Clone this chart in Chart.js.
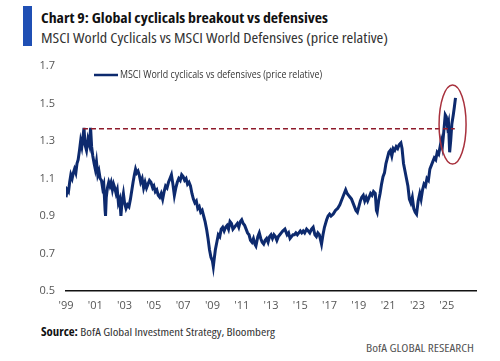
<!DOCTYPE html>
<html>
<head>
<meta charset="utf-8">
<script src="https://cdn.jsdelivr.net/npm/chart.js@4/dist/chart.umd.min.js"></script>
<style>
  html, body { margin: 0; padding: 0; background: #fff; }
  #wrap { position: relative; width: 500px; height: 361px; overflow: hidden; font-family: "Open Sans", sans-serif; }
  #bar { position: absolute; left: 23px; top: 6px; width: 9px; height: 40px; background: #1f4fb4; }
  .txt { position: absolute; white-space: nowrap; font-stretch: condensed; transform-origin: 0 0; }
  #title { left: 41px; top: 8px; font-size: 14.5px; font-weight: 700; color: #111; }
  #subtitle { left: 41px; top: 28px; font-size: 14px; color: #333; }
  #source { left: 41px; top: 324px; font-size: 11.5px; color: #333; }
  #source b { color: #111; }
  #footer { left: 366px; top: 340px; font-size: 11.5px; color: #555; }
  canvas { position: absolute; left: 0; top: 0; }
</style>
</head>
<body>
<div id="wrap">
  <div id="bar"></div>
  <div class="txt" id="title" data-w="287">Chart 9: Global cyclicals breakout vs defensives</div>
  <div class="txt" id="subtitle" data-w="347">MSCI World Cyclicals vs MSCI World Defensives (price relative)</div>
  <div class="txt" id="source" data-w="234"><b>Source:</b> BofA Global Investment Strategy, Bloomberg</div>
  <div class="txt" id="footer" data-w="108">BofA GLOBAL RESEARCH</div>
  <canvas id="c" width="500" height="361"></canvas>
</div>
<script>
// fit header/footer texts to the reference widths
document.querySelectorAll(".txt").forEach(el => {
  const w = el.getBoundingClientRect().width;
  const target = parseFloat(el.dataset.w);
  if (w > 0) el.style.transform = "scaleX(" + (target / w) + ")";
});

// ---- data ----
const seriesName = "MSCI World cyclicals vs defensives (price relative)";
const dates = [
1999.00,1999.08,1999.17,1999.25,1999.33,1999.42,1999.50,1999.58,1999.67,1999.75,1999.83,1999.92,
2000.00,2000.08,2000.17,2000.23,2000.30,2000.40,2000.50,2000.60,2000.68,2000.75,2000.83,2000.92,
2001.00,2001.08,2001.17,2001.25,2001.33,2001.42,2001.50,2001.58,2001.67,2001.70,2001.75,2001.83,2001.92,
2002.00,2002.08,2002.17,2002.25,2002.33,2002.42,2002.50,2002.58,2002.67,2002.75,2002.83,2002.92,
2003.00,2003.10,2003.20,2003.30,2003.40,2003.50,2003.58,2003.67,2003.75,2003.83,2003.92,
2004.00,2004.10,2004.20,2004.30,2004.40,2004.50,2004.60,2004.70,2004.80,2004.92,
2005.00,2005.10,2005.20,2005.30,2005.40,2005.50,2005.60,2005.70,2005.80,2005.90,
2006.00,2006.10,2006.20,2006.30,2006.40,2006.50,2006.60,2006.70,2006.80,2006.90,
2007.00,2007.10,2007.20,2007.30,2007.40,2007.50,2007.60,2007.70,2007.80,2007.90,
2008.00,2008.10,2008.20,2008.30,2008.40,2008.50,2008.60,2008.70,2008.80,2008.90,
2009.00,2009.06,2009.12,2009.20,2009.30,2009.40,2009.50,2009.60,2009.70,2009.80,2009.90,
2010.00,2010.10,2010.20,2010.30,2010.40,2010.50,2010.60,2010.70,2010.80,2010.90,
2011.00,2011.10,2011.20,2011.30,2011.40,2011.50,2011.60,2011.70,2011.80,2011.90,2011.97,
2012.10,2012.20,2012.30,2012.40,2012.50,2012.60,2012.70,2012.80,2012.90,
2013.00,2013.10,2013.20,2013.30,2013.40,2013.50,2013.60,2013.70,2013.80,2013.95,
2014.10,2014.20,2014.30,2014.40,2014.50,2014.60,2014.70,2014.80,2014.90,
2015.00,2015.10,2015.20,2015.30,2015.43,2015.55,2015.65,2015.77,2015.88,
2016.00,2016.10,2016.20,2016.30,2016.45,2016.55,2016.65,2016.80,2016.90,
2017.00,2017.10,2017.25,2017.40,2017.55,2017.70,2017.80,2017.90,
2018.00,2018.10,2018.20,2018.30,2018.40,2018.50,2018.60,2018.70,2018.80,2018.90,
2019.00,2019.10,2019.20,2019.30,2019.40,2019.50,2019.60,2019.70,2019.80,2019.90,
2020.00,2020.12,2020.20,2020.25,2020.35,2020.45,2020.55,2020.65,2020.75,2020.85,2020.95,
2021.05,2021.15,2021.25,2021.35,2021.45,2021.55,2021.65,2021.75,2021.87,2021.95,
2022.05,2022.15,2022.25,2022.35,2022.45,2022.55,2022.65,2022.75,2022.85,2022.94,
2023.05,2023.16,2023.25,2023.35,2023.45,2023.55,2023.65,2023.75,2023.85,2023.95,
2024.05,2024.15,2024.25,2024.35,2024.45,2024.55,2024.62,2024.70,2024.80,2024.90,2024.97,
2025.05,2025.12,2025.20,2025.27,2025.35,2025.45,2025.52,2025.60
];
const values = [
1.00,1.04,1.03,1.08,1.12,1.10,1.13,1.15,1.13,1.18,1.20,1.25,
1.30,1.27,1.33,1.37,1.28,1.25,1.31,1.28,1.37,1.27,1.22,1.18,
1.15,1.19,1.12,1.14,1.10,1.09,1.05,1.07,0.93,0.90,1.00,1.05,1.08,
1.06,1.08,1.04,1.07,1.05,1.02,1.04,0.97,0.99,0.90,0.98,1.02,
0.97,0.94,0.96,0.95,0.99,1.04,1.08,1.12,1.15,1.13,1.14,
1.12,1.08,1.10,1.05,1.08,1.05,1.07,1.09,1.08,1.05,
1.06,1.03,1.04,1.01,1.00,1.02,0.99,1.03,1.06,1.05,
1.08,1.10,1.12,1.07,1.01,1.05,1.08,1.10,1.09,1.12,
1.11,1.09,1.10,1.07,1.08,1.06,1.02,0.99,0.97,0.98,
0.94,0.95,0.92,0.93,0.90,0.87,0.83,0.78,0.72,0.68,
0.66,0.63,0.67,0.72,0.76,0.80,0.79,0.83,0.84,0.82,0.84,
0.85,0.83,0.87,0.86,0.83,0.84,0.85,0.86,0.84,0.87,
0.88,0.86,0.85,0.83,0.81,0.80,0.77,0.76,0.78,0.75,0.74,
0.79,0.81,0.78,0.76,0.75,0.77,0.78,0.76,0.79,
0.80,0.78,0.80,0.79,0.77,0.79,0.80,0.81,0.82,0.83,
0.80,0.81,0.78,0.79,0.80,0.80,0.81,0.80,0.81,
0.82,0.81,0.82,0.81,0.83,0.82,0.81,0.83,0.84,
0.80,0.79,0.81,0.80,0.75,0.80,0.84,0.88,0.90,
0.91,0.90,0.91,0.93,0.94,0.96,0.98,1.00,
1.02,1.04,1.02,1.01,1.00,0.99,0.97,0.95,0.93,0.92,
0.95,0.98,1.00,1.01,0.98,1.00,0.98,1.00,1.02,1.01,
1.03,1.02,0.93,0.92,0.98,1.02,1.07,1.11,1.13,1.18,1.21,
1.24,1.25,1.22,1.26,1.25,1.27,1.26,1.28,1.29,1.26,
1.18,1.14,1.10,1.06,0.99,0.97,1.00,0.94,0.92,0.91,
0.98,1.02,0.99,1.04,1.07,1.06,1.10,1.09,1.15,1.17,
1.19,1.21,1.20,1.24,1.23,1.27,1.30,1.27,1.35,1.44,1.43,
1.38,1.40,1.24,1.30,1.39,1.44,1.48,1.53
];
const prevPeakLevel = 1.365;
const prevPeakRange = [2000.16, 2025.55];
const tickYears = [1999,2001,2003,2005,2007,2009,2011,2013,2015,2017,2019,2021,2023,2025];
const yTicks = [0.5,0.7,0.9,1.1,1.3,1.5,1.7];
const xRange = [1999, 2027];
const yRange = [0.5, 1.7];
const highlight = { year: 2025.4, value: 1.388 };

const lineColor = "#0d2a6e";
const dashColor = "#8e1b2b";

const points = dates.map((d, i) => ({ x: d, y: values[i] }));
const peakLine = prevPeakRange.map(d => ({ x: d, y: prevPeakLevel }));

const overlay = {
  id: "overlay",
  afterDraw(chart) {
    const ctx = chart.ctx;
    const xs = chart.scales.x, ys = chart.scales.y;
    ctx.save();
    ctx.strokeStyle = "#a8313d";
    ctx.lineWidth = 1.5;
    ctx.beginPath();
    ctx.ellipse(xs.getPixelForValue(highlight.year), ys.getPixelForValue(highlight.value), 13.5, 39.5, 0, 0, Math.PI * 2);
    ctx.stroke();
    const lx = chart.chartArea.left + 28, ly = chart.chartArea.top + 9;
    ctx.strokeStyle = lineColor;
    ctx.lineWidth = 2.5;
    ctx.beginPath();
    ctx.moveTo(lx, ly); ctx.lineTo(lx + 24, ly);
    ctx.stroke();
    ctx.fillStyle = "#333";
    ctx.font = "10.5px 'Open Sans', sans-serif";
    ctx.textBaseline = "middle";
    ctx.fillText(seriesName, lx + 26, ly, 202);
    ctx.restore();
  }
};

new Chart(document.getElementById("c"), {
  type: "line",
  data: {
    datasets: [
      { label: seriesName, data: points, borderColor: lineColor, borderWidth: 3, pointRadius: 0, tension: 0, order: 2 },
      { label: "prev peak", data: peakLine, borderColor: dashColor, borderWidth: 1.5, borderDash: [5, 3], pointRadius: 0, order: 1 }
    ]
  },
  options: {
    responsive: false,
    animation: false,
    events: [],
    layout: { padding: { left: 0, right: 24, top: 66, bottom: 0 } },
    plugins: { legend: { display: false }, tooltip: { enabled: false } },
    scales: {
      x: {
        type: "linear",
        min: xRange[0], max: xRange[1],
        afterBuildTicks(s) { s.ticks = tickYears.map(v => ({ value: v })); },
        afterFit(s) { s.height = 70; },
        grid: { display: false, drawTicks: false },
        border: { display: true, color: "#111", width: 1.5 },
        ticks: {
          autoSkip: false, maxRotation: 0, padding: 8,
          color: "#555", font: { family: "Open Sans", size: 11 },
          callback: v => "'" + String(v % 100).padStart(2, "0")
        }
      },
      y: {
        min: yRange[0], max: yRange[1],
        afterBuildTicks(s) { s.ticks = yTicks.map(v => ({ value: v })); },
        afterFit(s) { s.width = 66; },
        grid: { display: false, drawTicks: false },
        border: { display: false },
        ticks: {
          padding: 11, color: "#555", font: { family: "Open Sans", size: 11 },
          callback: v => v.toFixed(1)
        }
      }
    }
  },
  plugins: [overlay]
});
</script>
</body>
</html>
